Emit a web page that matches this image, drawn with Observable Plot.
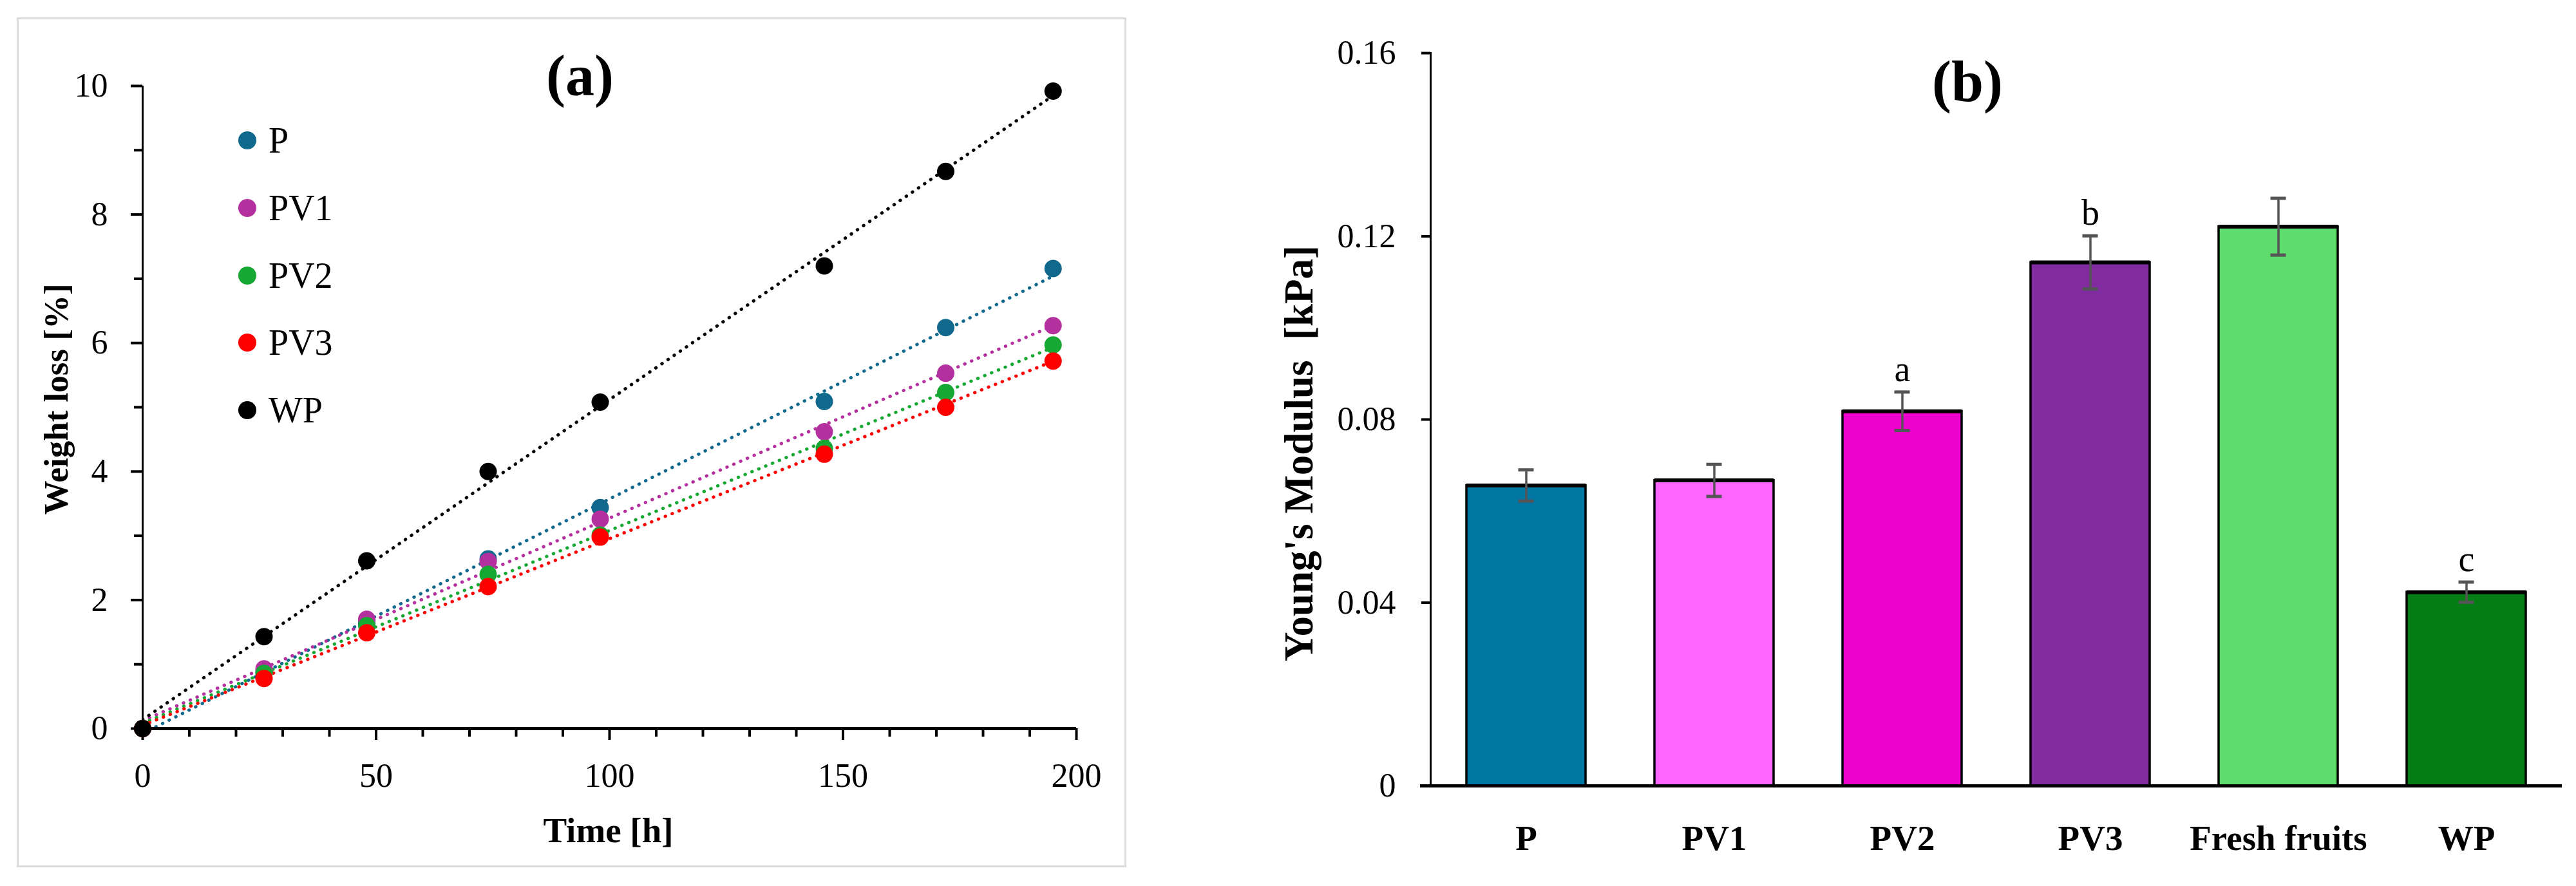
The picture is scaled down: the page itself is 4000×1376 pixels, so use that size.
<!DOCTYPE html>
<html>
<head>
<meta charset="utf-8">
<script src="https://cdn.jsdelivr.net/npm/d3@7"></script>
<script src="https://cdn.jsdelivr.net/npm/@observablehq/plot@0.6"></script>
<style>
  html, body { margin: 0; padding: 0; background: #ffffff; }
  #fig { position: relative; width: 4000px; height: 1376px; background: #ffffff; font-family: "Liberation Serif", serif; }
  #boxA { position: absolute; left: 26px; top: 27px; width: 1723px; height: 1320px; box-sizing: border-box; border: 3px solid #dcdcdc; }
  #plotA { position: absolute; left: 0; top: 0; }
  #plotB { position: absolute; left: 1760px; top: 0; }
  #legendA { position: absolute; left: 370px; top: 0; }
  .lg-row { position: absolute; left: 0; height: 80px; display: flex; align-items: center; white-space: nowrap; }
  .lg-dot { width: 28px; height: 28px; border-radius: 50%; margin-right: 19px; }
  .lg-txt { font-family: "Liberation Serif", serif; font-size: 56px; line-height: 80px; color: #000; }
  .ylab { position: absolute; white-space: pre; line-height: 1; font-family: "Liberation Serif", serif; font-weight: bold; color: #000;
          transform: translate(-50%, -50%) rotate(-90deg); }
</style>
</head>
<body>
<div id="fig">
  <div id="boxA"></div>
  <div id="plotA"></div>
  <div id="legendA"></div>
  <div id="plotB"></div>
  <div class="ylab" id="ylabA" style="left: 87px; top: 620px; font-size: 53px;"></div>
  <div class="ylab" id="ylabB" style="left: 2017px; top: 704px; font-size: 63px;"></div>
</div>
<script>
// ---------- Panel (a): weight loss ----------
const hours = [0, 26, 48, 74, 98, 146, 172, 195];
const seriesNames = ["P", "PV1", "PV2", "PV3", "WP"];
const seriesColors = ["#10688c", "#b4309f", "#16a832", "#ff0000", "#000000"];
const lossP   = [0, 0.88, 1.64, 2.64, 3.44, 5.09, 6.24, 7.16];
const lossPV1 = [0, 0.93, 1.70, 2.60, 3.26, 4.62, 5.53, 6.27];
const lossPV2 = [0, 0.86, 1.60, 2.40, 3.01, 4.36, 5.23, 5.97];
const lossPV3 = [0, 0.78, 1.49, 2.21, 2.98, 4.27, 5.00, 5.72];
const lossWP  = [0, 1.43, 2.61, 4.00, 5.08, 7.20, 8.67, 9.92];
const xTicksA = [0, 50, 100, 150, 200];
const xMinorA = [10, 20, 30, 40, 60, 70, 80, 90, 110, 120, 130, 140, 160, 170, 180, 190];
const yTicksA = [0, 2, 4, 6, 8, 10];
const yMinorA = [1, 3, 5, 7, 9];
const titleA = "(a)";
const xLabelA = "Time [h]";
const yLabelA = "Weight loss [%]";

// ---------- Panel (b): Young's modulus ----------
const categories = ["P", "PV1", "PV2", "PV3", "Fresh fruits", "WP"];
const modulus    = [0.0656, 0.0667, 0.0818, 0.1143, 0.1221, 0.0423];
const modulusErr = [0.0034, 0.0035, 0.0042, 0.0058, 0.0062, 0.0022];
const letters    = ["", "", "a", "b", "", "c"];
const barColors  = ["#0077a3", "#ff66ff", "#ee00cc", "#812ba1", "#5edc6d", "#037d14"];
const yTicksB = [0, 0.04, 0.08, 0.12, 0.16];
const yTickLabelsB = ["0", "0.04", "0.08", "0.12", "0.16"];
const titleB = "(b)";
const yLabelB = "Young's Modulus  [kPa]";

const lossBySeries = [lossP, lossPV1, lossPV2, lossPV3, lossWP];
const rows = seriesNames.flatMap((s, k) => hours.map((t, i) => ({series: s, t, loss: lossBySeries[k][i]})));

const FONT = "Liberation Serif";

const plotA = Plot.plot({
  width: 1760, height: 1376,
  marginLeft: 221, marginRight: 89, marginTop: 133, marginBottom: 245,
  style: {fontFamily: FONT, background: "transparent", color: "#000", overflow: "visible"},
  x: {domain: [0, 200]},
  y: {domain: [0, 10]},
  color: {domain: seriesNames, range: seriesColors},
  marks: [
    Plot.axisY({ticks: yTicksA, tickSize: 18, tickPadding: 36, strokeWidth: 4, fontSize: 52, label: null}),
    Plot.axisY({ticks: yMinorA, tickSize: 13, strokeWidth: 4, text: null, label: null}),
    Plot.axisX({ticks: xTicksA, tickSize: 18, tickPadding: 36, strokeWidth: 4, fontSize: 52, label: null}),
    Plot.axisX({ticks: xMinorA, tickSize: 13, strokeWidth: 4, text: null, label: null}),
    Plot.ruleX([0], {stroke: "#000", strokeWidth: 3}),
    Plot.linearRegressionY(rows, {x: "t", y: "loss", stroke: "series", ci: 0, strokeWidth: 5,
      strokeDasharray: "0.5 11", strokeLinecap: "round", clip: true}),
    Plot.ruleY([0], {stroke: "#000", strokeWidth: 5}),
    Plot.dot(rows, {x: "t", y: "loss", fill: "series", r: 13.5}),
    Plot.text([titleA], {frameAnchor: "top", lineAnchor: "bottom", dx: -46, dy: 14, fontSize: 90, fontWeight: "bold"}),
    Plot.text([xLabelA], {frameAnchor: "bottom", lineAnchor: "bottom", dx: -2, dy: 176, fontSize: 55, fontWeight: "bold"})
  ]
});
document.getElementById("plotA").appendChild(plotA);
document.getElementById("ylabA").textContent = yLabelA;

// legend for panel (a)
const legend = document.getElementById("legendA");
seriesNames.forEach((s, k) => {
  const row = document.createElement("div");
  row.className = "lg-row";
  row.style.top = (218 + k * 104.75 - 40) + "px";
  const dot = document.createElement("div");
  dot.className = "lg-dot";
  dot.style.background = seriesColors[k];
  const txt = document.createElement("span");
  txt.className = "lg-txt";
  txt.textContent = s;
  row.appendChild(dot); row.appendChild(txt);
  legend.appendChild(row);
});

const bars = categories.map((c, i) => ({cat: c, val: modulus[i], err: modulusErr[i], letter: letters[i]}));

const plotB = Plot.plot({
  width: 2240, height: 1376,
  marginLeft: 461, marginRight: 22, marginTop: 82, marginBottom: 156,
  style: {fontFamily: FONT, background: "transparent", color: "#000", overflow: "visible"},
  x: {domain: categories, paddingInner: 0.365, paddingOuter: 0.1825},
  y: {domain: [0, 0.16]},
  color: {domain: categories, range: barColors},
  marks: [
    Plot.axisY({ticks: yTicksB, tickSize: 14, tickPadding: 40, strokeWidth: 4, fontSize: 52, label: null,
      tickFormat: (d) => yTickLabelsB[yTicksB.indexOf(d)]}),
    Plot.axisX({tickSize: 0, tickPadding: 60, fontSize: 55, fontWeight: "bold", label: null}),
    Plot.frame({anchor: "left", stroke: "#000", strokeWidth: 3}),
    Plot.barY(bars, {x: "cat", y: "val", fill: "cat", stroke: "#000", strokeWidth: 3.5}),
    Plot.tickY(bars, {x: "cat", y: "val", stroke: "#000", strokeWidth: 6}),
    Plot.ruleX(bars, {x: "cat", y1: (d) => d.val - d.err, y2: (d) => d.val + d.err, stroke: "#555", strokeWidth: 3.5}),
    Plot.tickY(bars, {x: "cat", y: (d) => d.val - d.err, stroke: "#555", strokeWidth: 5, insetLeft: 80.5, insetRight: 80.5}),
    Plot.tickY(bars, {x: "cat", y: (d) => d.val + d.err, stroke: "#555", strokeWidth: 5, insetLeft: 80.5, insetRight: 80.5}),
    Plot.text(bars.filter((d) => d.letter), {x: "cat", y: (d) => d.val + d.err, text: "letter", lineAnchor: "bottom", dy: -17, fontSize: 56}),
    Plot.ruleY([0], {stroke: "#000", strokeWidth: 5, insetLeft: -16}),
    Plot.text([titleB], {frameAnchor: "top", lineAnchor: "bottom", dx: -45, dy: 74, fontSize: 90, fontWeight: "bold"})
  ]
});
document.getElementById("plotB").appendChild(plotB);
document.getElementById("ylabB").textContent = yLabelB;
</script>
</body>
</html>
